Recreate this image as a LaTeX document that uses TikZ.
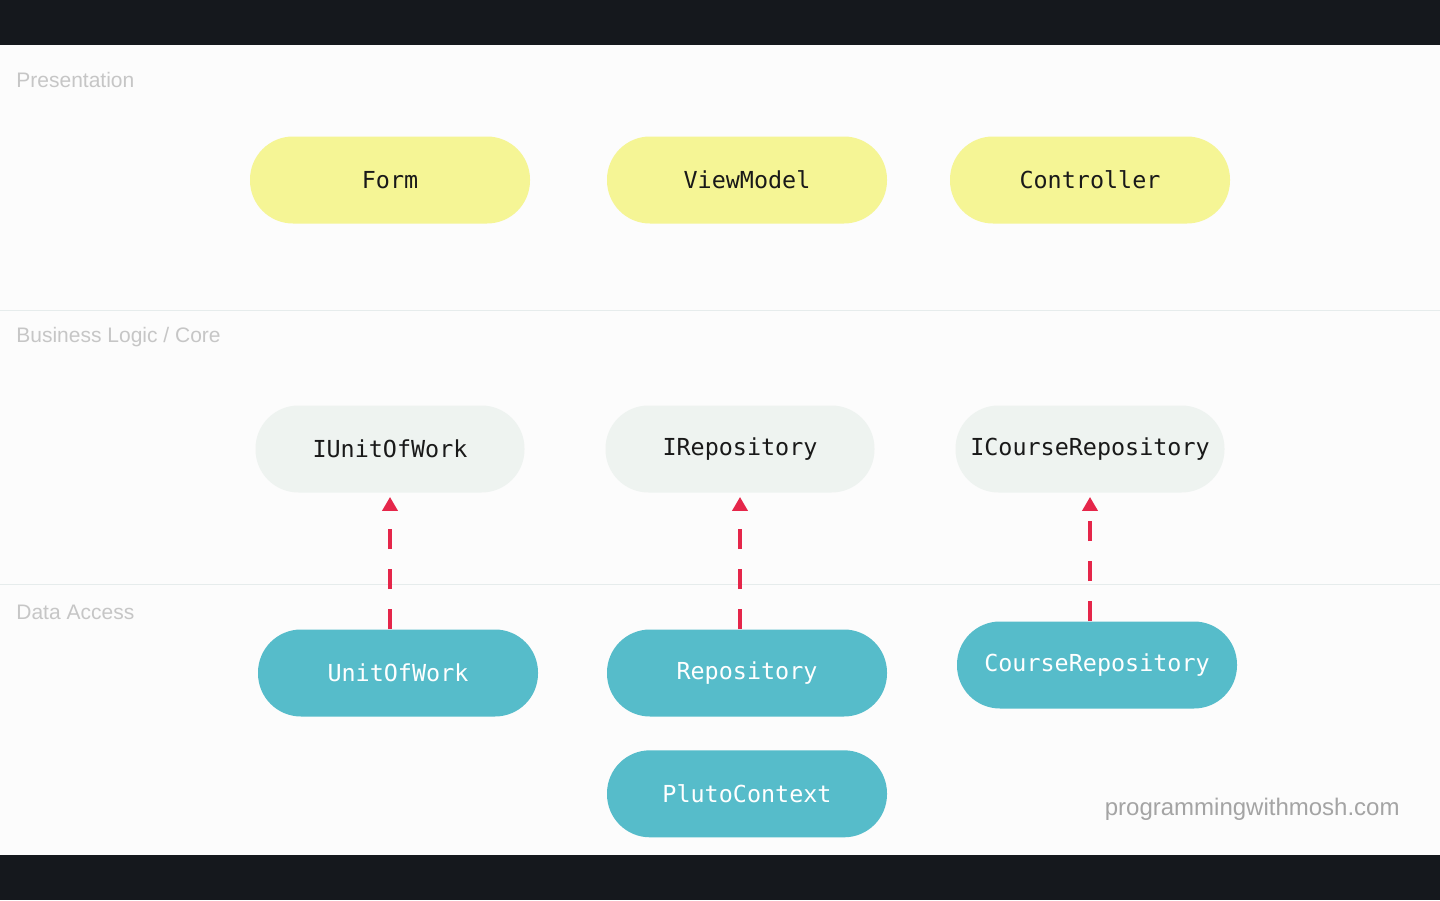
\documentclass[tikz,border=0pt]{standalone}
\usepackage{fontspec}
\setmainfont{Liberation Sans}
\setmonofont{DejaVu Sans Mono}
\usetikzlibrary{positioning, arrows.meta}

\definecolor{bandDark}{HTML}{15181D}
\definecolor{paper}{HTML}{FCFCFC}
\definecolor{divider}{HTML}{E6ECEC}
\definecolor{layerText}{HTML}{C6C6C6}
\definecolor{siteText}{HTML}{A4A4A4}
\definecolor{uiYellow}{HTML}{F5F595}
\definecolor{coreGray}{HTML}{EEF3F0}
\definecolor{dataTeal}{HTML}{56BCCA}
\definecolor{implRed}{HTML}{E5264A}

\begin{document}
\begin{tikzpicture}[x=0.5pt, y=-0.5pt, node distance=16.5pt,
    box/.style={rectangle, rounded corners=21.5pt, minimum width=140pt,
      minimum height=43.5pt, text=black!90,
      font=\ttfamily\fontsize{11.7}{14}\selectfont},
    ui/.style={box, fill=uiYellow},
    core/.style={box, fill=coreGray, minimum width=134.5pt},
    data/.style={box, fill=dataTeal, text=white},
    layer/.style={anchor=base west, inner sep=0pt, text=layerText,
      font=\fontsize{10.5}{12}\selectfont},
    impl/.style={-{Triangle[length=7pt, width=7.5pt]}, implRed, line width=2pt,
      dash pattern=on 10pt off 10pt, shorten >=2pt}]
    \useasboundingbox (0,0) rectangle (1440,900);
    \fill[paper] (0,45) rectangle (1440,855);
    \fill[bandDark] (0,0) rectangle (1440,45);
    \fill[bandDark] (0,855) rectangle (1440,900);
    \draw[divider, line width=0.5pt] (0,310) -- (1440,310);
    \draw[divider, line width=0.5pt] (0,584) -- (1440,584);

    \node[layer] (presLabel) at (16,87) {Presentation};
    \node[layer] (coreLabel) at (16,342) {Business Logic / Core};
    \node[layer] (dataLabel) at (16,619) {Data Access};

    \node[ui] (form) at (390,180) {Form};
    \node[ui] (viewModel) at (747,180) {ViewModel};
    \node[ui] (controller) at (1090,180) {Controller};

    \node[core] (iUnitOfWork) at (390,449) {IUnitOfWork};
    \node[core] (iRepo) at (740,449) {IRepository};
    \node[core] (iCourseRepo) at (1090,449) {ICourseRepository};

    \node[data] (unitOfWork) at (398,673) {UnitOfWork};
    \node[data] (repo) at (747,673) {Repository};
    \node[data] (courseRepo) at (1097,665) {CourseRepository};
    \node[data] (plutoCtx) [below=of repo] {PlutoContext};

    \node[anchor=base east, inner sep=0pt, text=siteText,
      font=\fontsize{12}{14}\selectfont] (site) at (1400,815) {programmingwithmosh.com};

    \path[impl]
      (unitOfWork.north -| iUnitOfWork) edge (iUnitOfWork.south)
      (repo.north -| iRepo) edge (iRepo.south)
      (courseRepo.north -| iCourseRepo) edge (iCourseRepo.south);
  \end{tikzpicture}
\end{document}
